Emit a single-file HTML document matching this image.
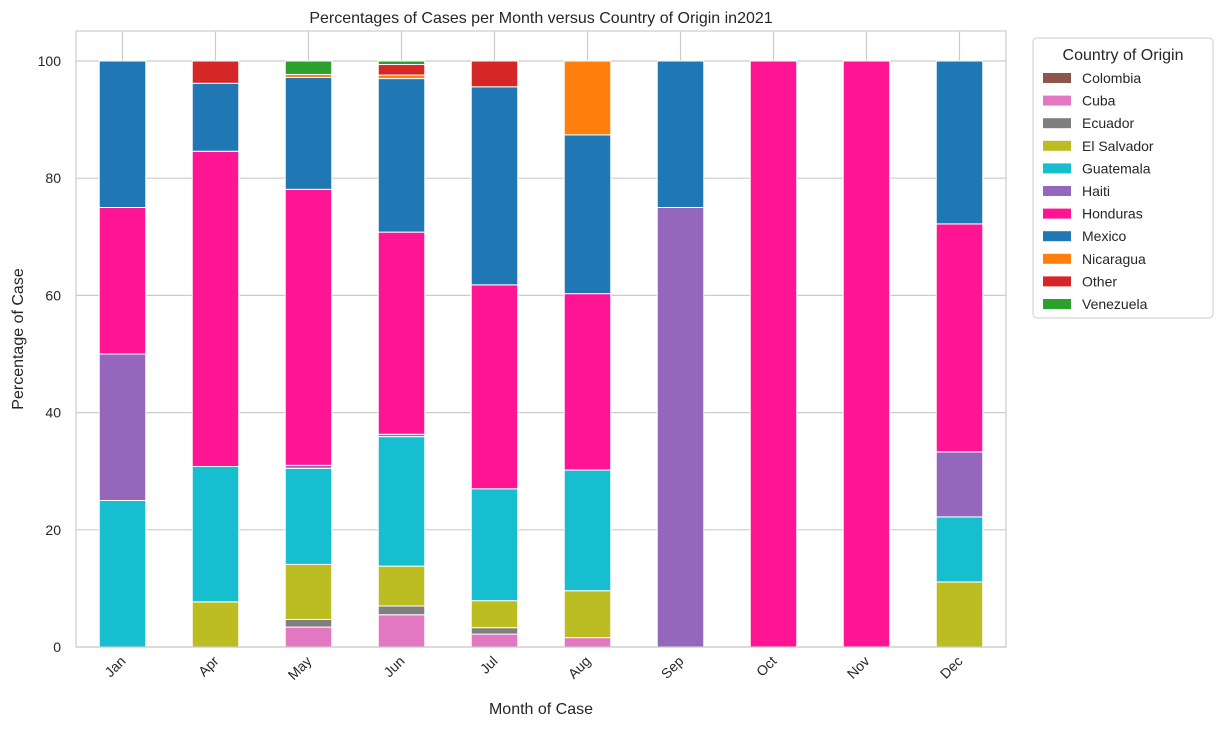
<!DOCTYPE html>
<html><head><meta charset="utf-8"><style>
body{margin:0;background:#fff;font-family:"Liberation Sans","DejaVu Sans",sans-serif;}
</style></head><body>
<svg id="chart" width="1224" height="727" xmlns="http://www.w3.org/2000/svg" font-family="Liberation Sans, DejaVu Sans, sans-serif"></svg>
<script>
const months = ["Jan","Apr","May","Jun","Jul","Aug","Sep","Oct","Nov","Dec"];
const countries = ["Colombia","Cuba","Ecuador","El Salvador","Guatemala","Haiti","Honduras","Mexico","Nicaragua","Other","Venezuela"];
const colors = ["#8c564b","#e377c2","#7f7f7f","#bcbd22","#17becf","#9467bd","#ff1493","#1f77b4","#ff7f0e","#d62728","#2ca02c"];
const colombia = [0,0,0,0,0,0,0,0,0,0];
const cuba = [0,0,3.4,5.5,2.2,1.6,0,0,0,0];
const ecuador = [0,0,1.3,1.5,1.1,0,0,0,0,0];
const elSalvador = [0,7.7,9.4,6.8,4.6,8.0,0,0,0,11.1];
const guatemala = [25,23.1,16.4,22.1,19.1,20.6,0,0,0,11.1];
const haiti = [25,0,0.5,0.4,0,0,75,0,0,11.1];
const honduras = [25,53.8,47.1,34.5,34.8,30.1,0,100,100,38.9];
const mexico = [25,11.6,19.1,26.2,33.8,27.1,25,0,0,27.8];
const nicaragua = [0,0,0.5,0.6,0,12.6,0,0,0,0];
const other = [0,3.8,0,1.8,4.4,0,0,0,0,0];
const venezuela = [0,0,2.3,0.6,0,0,0,0,0,0];
const series = [colombia,cuba,ecuador,elSalvador,guatemala,haiti,honduras,mexico,nicaragua,other,venezuela];
const yTicks = [0,20,40,60,80,100];

const NS="http://www.w3.org/2000/svg";
const svg=document.getElementById('chart');
const L=76,R=1006,T=31,B=647,Y0=647,Y100=61;
const y=v=>Y0-(v/100)*(Y0-Y100);
const step=(R-L)/months.length;
const x=i=>L+step*(i+0.5);
const bw=step*0.5;
function mk(tag,attrs,parent){const e=document.createElementNS(NS,tag);for(const k in attrs)e.setAttribute(k,attrs[k]);(parent||svg).appendChild(e);return e;}

const grid=mk('g',{});


yTicks.forEach(t=>{mk('line',{x1:L,x2:R,y1:y(t),y2:y(t),stroke:'#cccccc','stroke-width':1.2},grid);});
months.forEach((m,i)=>{mk('line',{x1:x(i),x2:x(i),y1:T,y2:B,stroke:'#cccccc','stroke-width':1.2},grid);});

const bars=mk('g',{});


months.forEach((m,i)=>{
  let acc=0;
  series.forEach((s,k)=>{
    const v=s[i]; if(v<=0) return;
    const r=mk('rect',{x:x(i)-bw/2,y:y(acc+v),width:bw,height:y(acc)-y(acc+v),fill:colors[k],stroke:'#fff','stroke-width':1},bars);
    
    
    acc+=v;
  });
});

const frame=mk('rect',{x:L,y:T,width:R-L,height:B-T,fill:'none',stroke:'#cccccc','stroke-width':1.2});



yTicks.forEach(t=>{const e=mk('text',{x:L-15,y:y(t)+5,'text-anchor':'end','font-size':14,fill:'#262626'});e.textContent=t;

});
months.forEach((m,i)=>{const e=mk('text',{x:x(i)+4,y:662,'text-anchor':'end','font-size':14,fill:'#262626',transform:`rotate(-45 ${x(i)+4} 662)`});e.textContent=m;

});

let e=mk('text',{x:(L+R)/2,y:23,'text-anchor':'middle','font-size':16,fill:'#262626'});e.textContent='Percentages of Cases per Month versus Country of Origin in2021';


e=mk('text',{x:(L+R)/2,y:714,'text-anchor':'middle','font-size':16,fill:'#262626'});e.textContent='Month of Case';


e=mk('text',{x:23,y:(T+B)/2,'text-anchor':'middle','font-size':16,fill:'#262626',transform:`rotate(-90 23 ${(T+B)/2})`});e.textContent='Percentage of Case';



const lg=mk('g',{});


mk('rect',{x:1033,y:38,width:180,height:280,rx:4,fill:'#fff',stroke:'#cccccc','stroke-width':1},lg);
e=mk('text',{x:1123,y:60,'text-anchor':'middle','font-size':16,fill:'#262626'},lg);e.textContent='Country of Origin';


countries.forEach((c,k)=>{
  const cy=78+k*22.6;
  const g=mk('g',{},lg);
  
  
  mk('rect',{x:1043,y:cy-5,width:28,height:10,fill:colors[k]},g);
  const t=mk('text',{x:1082,y:cy+5,'font-size':14,fill:'#262626'},g);t.textContent=c;
});
</script>
</body></html>
